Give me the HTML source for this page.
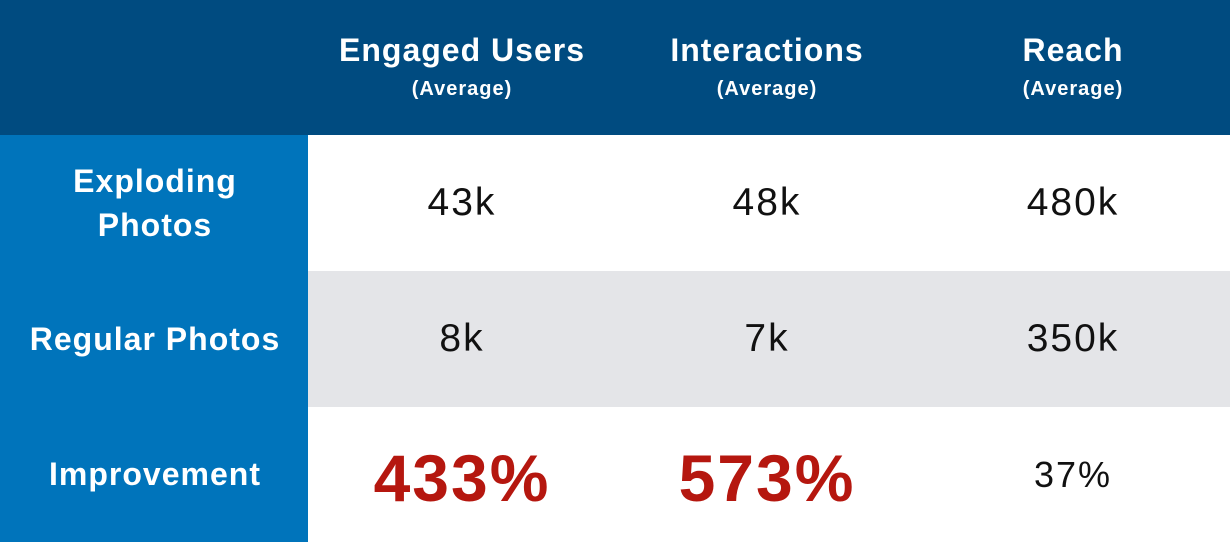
<!DOCTYPE html>
<html><head><meta charset="utf-8"><style>
body{margin:0;width:1230px;height:542px;overflow:hidden;background:#fff;font-family:"Liberation Sans",sans-serif;position:relative}
div{position:absolute;box-sizing:border-box}
.c{text-align:center;transform:translateX(-50%);white-space:nowrap}
.h{color:#fff;font-weight:bold;font-size:32px;letter-spacing:1px}
.sub{color:#fff;font-weight:bold;font-size:20px;letter-spacing:1px}
.r{color:#fff;font-weight:bold;font-size:32px;line-height:44px;letter-spacing:1px}
.v{color:#111;font-size:39px;letter-spacing:2px}
.big{color:#b5170f;font-weight:bold;font-size:66px;letter-spacing:2px}
</style></head><body>
<div style="left:0;top:0;width:1230px;height:135px;background:#004b80"></div>
<div style="left:0;top:135px;width:308px;height:407px;background:#0074bb"></div>
<div style="left:308px;top:271px;width:922px;height:136px;background:#e4e5e8"></div>

<div class="c h" style="left:462px;top:32px">Engaged Users</div>
<div class="c sub" style="left:462px;top:78px">(Average)</div>
<div class="c h" style="left:767px;top:32px">Interactions</div>
<div class="c sub" style="left:767px;top:78px">(Average)</div>
<div class="c h" style="left:1073px;top:32px">Reach</div>
<div class="c sub" style="left:1073px;top:78px">(Average)</div>

<div class="c r" style="left:155px;top:159px">Exploding<br>Photos</div>
<div class="c r" style="left:155px;top:317px">Regular Photos</div>
<div class="c r" style="left:155px;top:452px">Improvement</div>

<div class="c v" style="left:462px;top:181px">43k</div>
<div class="c v" style="left:767px;top:181px">48k</div>
<div class="c v" style="left:1073px;top:181px">480k</div>
<div class="c v" style="left:462px;top:317px">8k</div>
<div class="c v" style="left:767px;top:317px">7k</div>
<div class="c v" style="left:1073px;top:317px">350k</div>
<div class="c big" style="left:462px;top:440px">433%</div>
<div class="c big" style="left:767px;top:440px">573%</div>
<div class="c v" style="left:1073px;top:454px;font-size:36px">37%</div>
</body></html>
